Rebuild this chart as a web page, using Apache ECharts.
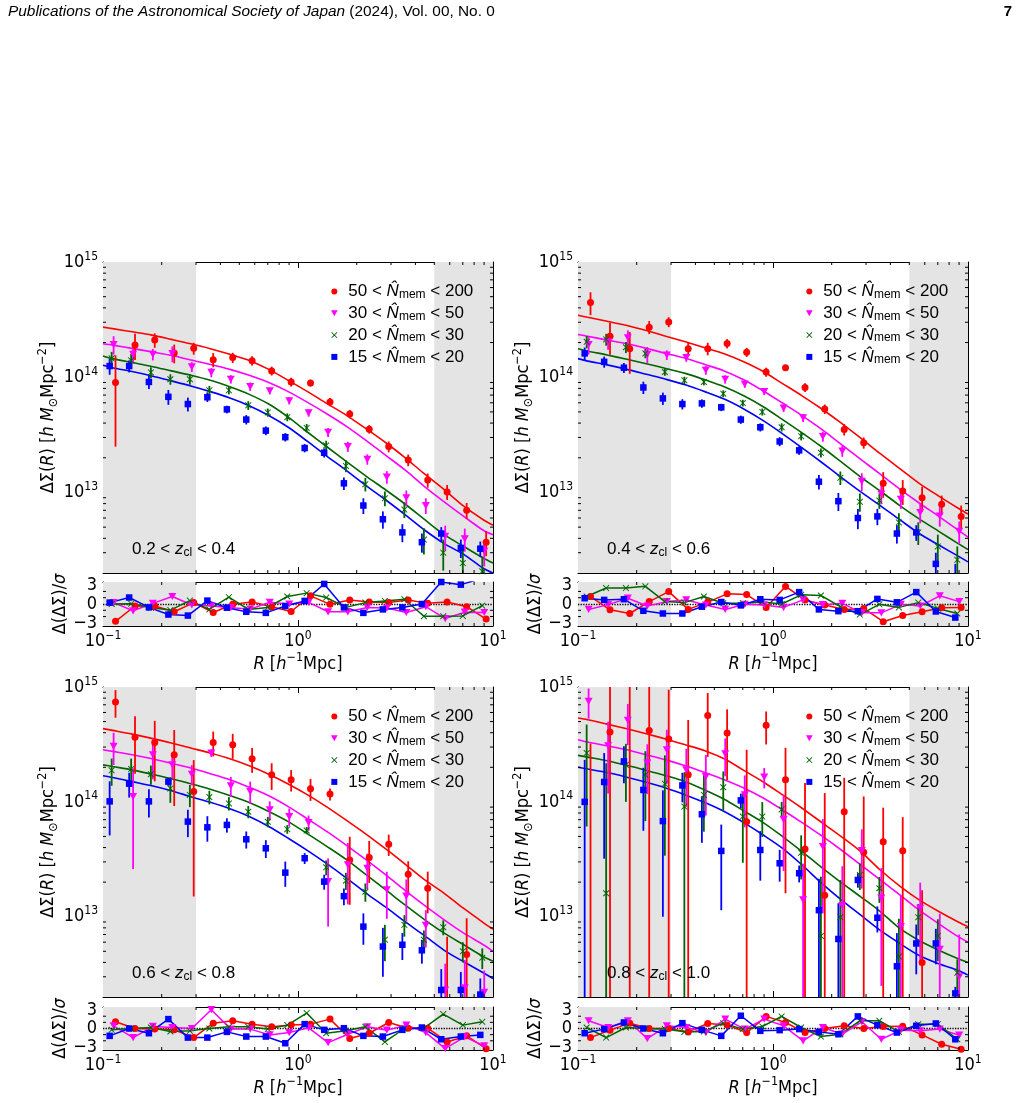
<!DOCTYPE html>
<html>
<head>
<meta charset="utf-8">
<script src="https://cdn.jsdelivr.net/npm/echarts@6/dist/echarts.min.js"></script>
<style>
  html, body { margin: 0; padding: 0; background: #fff; }
  #chart { width: 1021px; height: 1103px; }
</style>
</head>
<body>
<div id="chart"></div>
<script>
// radial bins (h^-1 Mpc), 20 log bins between 0.1 and 10
const R = [0.112, 0.141, 0.178, 0.224, 0.282, 0.355, 0.447, 0.562, 0.708, 0.891,
           1.12, 1.41, 1.78, 2.24, 2.82, 3.55, 4.47, 5.62, 7.08, 8.91]
const R_FIT = [0.1].concat(R, [10])

// richness bins, order: red, magenta, green, blue
const BINS = ['50 < N_mem < 200', '30 < N_mem < 50', '20 < N_mem < 30', '15 < N_mem < 20']
const BIN_LO = ['50', '30', '20', '15']
const BIN_HI = ['200', '50', '30', '20']
const ZBINS = [['0.2', '0.4'], ['0.4', '0.6'], ['0.6', '0.8'], ['0.8', '1.0']]

// Delta Sigma in units of 1e12 h Msun Mpc^-2, one row per richness bin
const UNIT = 1e12
const sig1 = [
  [90, 190, 210, 162, 178, 142, 148, 139, 113.5, 91, 89, 61, 48, 35.4, 25, 19.1, 12.8, 10.1, 7.0, 3.7],
  [192, 158, 158, 160, 123, 110, 96, 83, 76, 62.5, 49, 33.3, 25, 19.4, 13.6, 9.0, 7.7, 4.15, 3.96, 3.08],
  [146, 140, 110, 96, 96, 77, 77, 57, 49.5, 45, 36.3, 25.6, 17, 11.8, 8.9, 7.1, 3.9, 3.0, 2.44, 2.07],
  [125, 125, 91, 67.6, 58.5, 67, 52.6, 42.9, 34.4, 30.2, 24.3, 22.1, 12.0, 7.7, 5.85, 4.5, 3.7, 4.4, 3.3, 3.25]
]
const err1 = [
  [65, 49, 30, 30, 21, 20, 15, 13, 10, 8, 6, 5, 4, 3, 2.7, 2.2, 1.8, 1.5, 1.1, 0.9],
  [35, 25, 18, 25, 12, 10, 8, 7, 5, 4.5, 3.5, 3, 2.5, 2, 1.7, 1.4, 1.2, 1.0, 0.9, 0.8],
  [20, 20, 12, 10, 10, 7, 6, 5, 4, 3.5, 3, 2.5, 2, 1.6, 1.3, 1.1, 1.0, 0.9, 0.8, 0.7],
  [20, 15, 12, 10, 8, 6, 4, 4, 3, 2.5, 2, 2, 1.5, 1.2, 1.0, 0.8, 0.7, 0.6, 0.6, 0.5]
]
const fit1 = [
  [272, 264, 248, 232, 213, 195, 177, 158, 140, 117, 94, 75, 59, 46.5, 35.6, 27.0, 20.0, 14.4, 10.6, 7.6, 5.8, 5.2],
  [195, 190, 178, 166, 155, 141, 129, 117, 104, 90, 75, 60.5, 48, 37.3, 28.2, 21.0, 15.6, 11.2, 8.3, 6.2, 4.7, 4.3],
  [153, 145, 134, 124, 113.5, 104, 94, 82.5, 71, 58.5, 45, 33.3, 24.8, 18.4, 13.8, 10.5, 7.9, 5.8, 4.3, 3.4, 2.7, 2.44],
  [127, 121, 112, 102.6, 93, 84, 75, 66, 56.6, 46.5, 36.8, 27.7, 20.6, 15.4, 11.4, 8.6, 6.4, 4.7, 3.6, 2.9, 2.2, 2.0]
]
const res1 = [
  [-2.76, -0.32, -0.32, -1.24, 0.22, -1.35, -0.05, 0.32, -0.43, -1.19, 1.3, -0.05, 0.65, 0.32, 0.22, 0.65, 0.1, 0.32, -0.43, -2.4],
  [0.22, -1.08, 0.1, 1.19, -0.16, -0.32, -0.59, -0.81, 0.27, 0, 0.27, -1.24, -1.24, -0.54, -0.65, -1.35, -0.43, -2.32, -1.3, -1.35],
  [0, 0.05, -0.59, -0.97, 0.54, -0.86, 1.08, -0.86, -0.54, 1.19, 1.73, 1.03, -0.54, 0.22, 0.49, 0.76, -1.95, -1.95, -1.89, -0.27],
  [0.22, 1.03, -0.54, -1.68, -1.84, 0.54, -0.59, -1.24, -1.41, -0.32, 0.49, 3.19, -0.54, -1.41, -0.86, -0.54, 0, 3.5, 3.08, 4.0]
]

const sig2 = [
  [446, 227, 177, 272, 302, 177, 177, 196, 165, 111, 121, 81.5, 53, 35.2, 27, 12, 10.3, 9.0, 7.9, 6.2],
  [192, 203, 220, 158, 156, 148, 115, 96, 87, 75, 54, 44.4, 30.6, 22.9, 12.5, 9.7, 8.7, 6.7, 6.25, 4.6],
  [203, 213, 182, 161, 111, 94, 91, 72, 59.7, 50, 36.8, 30.8, 22.1, 13.4, 8.3, 8.5, 5.5, 4.5, 3.4, 2.6],
  [161, 136, 121, 81.5, 65.5, 58.5, 59.3, 54.8, 42.9, 36.8, 27.7, 23.2, 12.4, 8.4, 6.0, 6.2, 4.4, 4.5, 2.4, 1.9]
]
const err2 = [
  [100, 70, 70, 35, 30, 25, 22, 18, 15, 10, 7, 7, 5, 4, 3, 3, 2.5, 2.2, 1.5, 1.5],
  [35, 30, 35, 25, 15, 12, 10, 8, 6, 5, 4, 3.5, 3, 2.5, 2.2, 1.8, 1.5, 1.3, 1.2, 1.0],
  [25, 25, 20, 15, 8, 7, 6, 5, 4, 3.5, 3, 2.5, 2, 1.8, 1.5, 1.3, 1.1, 1.0, 0.9, 0.8],
  [20, 15, 12, 10, 8, 6, 5, 4, 3.5, 3, 2.5, 2, 1.8, 1.5, 1.2, 1.0, 0.8, 0.7, 0.6, 0.5]
]
const fit2 = [
  [345, 331, 306, 281, 254, 227, 203, 180, 160, 136, 112, 88, 69, 53, 40, 29.6, 21.7, 16.1, 12.0, 9.3, 7.3, 6.5],
  [235, 227, 210, 195, 178, 161, 146, 129, 113.5, 95, 76, 59.7, 46.5, 35.2, 26.1, 19.4, 14.4, 10.7, 8.1, 6.2, 4.7, 4.1],
  [177, 169, 156, 143, 131, 119, 108, 95, 82.6, 69, 55.5, 42.9, 32.9, 24.8, 18.4, 13.6, 10.3, 7.7, 5.9, 4.6, 3.6, 3.2],
  [145, 138, 128, 117, 106, 96, 86, 75, 64.6, 53, 42, 32.3, 24.4, 18.2, 13.5, 10.1, 7.7, 5.8, 4.4, 3.5, 2.8, 2.5]
]
const res2 = [
  [1.19, -0.92, -1.51, 0.38, 1.97, -0.86, 0.3, 1.62, 1.51, -0.54, 2.8, 0.65, -0.16, -0.86, -0.7, -2.81, -1.84, -1.24, -0.59, -0.54],
  [-0.86, -0.1, 0.92, -0.32, 0.38, 0.65, -0.16, -0.86, -0.05, -0.16, -0.54, 0.65, -0.1, 0.1, -1.41, -1.41, -0.05, -0.32, 1.3, 0.38],
  [1.19, 2.54, 2.54, 2.81, 0.38, 0.22, 1.19, 0.11, 0.11, 0.32, 0, 1.46, 1.35, -0.43, -1.68, -0.05, -0.54, 0.22, -0.7, -1.51],
  [0.92, 0.65, 0.76, -1.08, -1.51, -1.51, -0.43, 0.32, -0.22, 0.76, 0.65, 1.89, -0.86, -1.14, -1.14, 0.81, 0.27, 1.89, -1.19, -2.16]
]

const sig3 = [
  [740, 366, 329, 257, 123, 329, 314, 237, 172, 156, 130, 117, 31.2, 32.7, 42.8, 23.4, 17.7, 1.5, 4.7, 0.5],
  [304, 111, 257, 210, 174, 266, 138, 123, 85, 74.5, 66, 20.2, 28.3, 26.4, 17.1, 15.1, 8.4, 2.3, 2.4, 2.2],
  [188, 193, 174, 131, 115, 110, 97, 82, 67, 57.8, 56.3, 26.9, 20.6, 16.5, 6.3, 8.5, 6.3, 8.1, 5.0, 4.4],
  [101, 144, 101, 150, 67.3, 60, 63, 47.2, 39.4, 24.2, 32.3, 20.2, 15.1, 8.2, 5.5, 5.7, 5.1, 2.3, 2.3, 2.1]
]
const err3 = [
  [200, 190, 178, 165, 108, 80, 77, 58, 45, 33, 28, 14, 18.5, 13, 9, 7, 7, 5.2, 5.0, 1],
  [95, 85, 100, 50, 35, 20, 27, 27, 16, 13, 10, 12, 15.5, 9, 7.5, 6, 3, 1.6, 1.8, 1.2],
  [50, 45, 33, 33, 25, 15, 13, 10, 7, 5, 4, 4, 3.5, 3, 2.2, 1.8, 1.3, 1.2, 1.0, 0.9],
  [50, 35, 28, 12, 18, 15, 9, 8, 7, 6, 3.5, 3, 2.5, 2.5, 2.5, 1.5, 1.2, 1.2, 1.0, 0.8]
]
const fit3 = [
  [434, 419, 389, 357, 325, 294, 266, 237, 206, 174, 143, 115, 90, 68.7, 52.2, 38.9, 28.6, 20.9, 16.0, 11.8, 8.9, 7.8],
  [284, 275, 257, 237, 217, 197, 176, 156, 134, 113, 91, 71, 55, 41.6, 31.2, 23.1, 16.9, 12.5, 9.4, 7.2, 5.7, 5.0],
  [210, 203, 190, 174, 159, 144, 129, 113.5, 98.6, 82.4, 67.3, 52.6, 40.8, 31.2, 23.1, 17.1, 12.6, 9.4, 7.2, 5.7, 4.5, 4.1],
  [169, 163, 150, 138, 125, 111, 99, 87, 74.5, 61, 48.2, 37.6, 28.8, 21.6, 16.0, 12.1, 9.0, 6.8, 5.1, 4.05, 3.25, 2.9]
]
const res3 = [
  [1.09, 0, -0.1, -0.2, -1.48, 0.87, 1.26, 0.71, 0.27, 0.55, 0.71, 1.53, -1.64, -0.77, 0.98, 0.05, 0.05, -2.19, -1.2, -3.28],
  [0.44, -1.48, 0.33, 0.16, 0, 3.06, -0.1, -0.1, -1.04, -0.66, 0.1, -2.3, -0.93, 0.27, -0.27, 0.55, -0.66, -3.28, -1.37, -2.84],
  [-0.22, 0, 0.16, -0.49, -0.38, 0, 0.27, 0.27, -0.1, 0.55, 2.51, -0.77, -0.38, 0.27, -2.19, 0, 0.05, 2.35, 0.55, 1.09],
  [-1.2, 0, -0.77, 1.53, -1.48, -1.48, -0.55, -1.31, -1.31, -2.4, 0.71, -0.22, 0.05, -1.2, -1.31, -0.22, 0.16, -1.75, -1.31, -1.04]
]

const sig4 = [
  [1.5, 405, 1300, 419, 352, 172, 566, 397, 67, 464, 156, 38.9, 15.4, 82, 36.4, 45, 37.6, 4, 1.0, 0.5],
  [750, 308, 512, 217, 284, 190, 166, 262, 115, 164, 70, 14, 40.7, 12.5, 37.6, 14.5, 8.2, 11.8, 5.2, 3],
  [266, 16, 210, 172, 144, 91, 115, 134, 74.5, 74.5, 86, 36.1, 6.8, 9.9, 23.1, 17.7, 4.5, 9.9, 6.8, 3.25],
  [100, 149, 225, 127, 68, 139, 78, 37.4, 103, 38.1, 29.2, 23.9, 11.4, 6.4, 20.9, 9.8, 3.7, 5.85, 5.85, 2.15]
]
const err4 = [
  [320, 700, 1300, 700, 596, 343, 320, 242, 217, 148, 140, 107, 104, 80, 75, 44, 36, 13, 1.0, 0.5],
  [220, 190, 200, 100, 141, 100, 90, 95, 55, 33, 45, 15, 30, 15, 20, 12, 7, 8, 5.4, 4],
  [205, 201, 110, 104, 110, 90, 60, 50, 45, 25, 14, 15, 15.5, 11, 6, 4.5, 5.1, 3, 2.7, 1],
  [132, 117, 80, 71, 58, 40, 34, 26, 15, 17.5, 9, 4, 10, 6.7, 3, 2.5, 3.5, 2.7, 2, 0.3]
]
const fit4 = [
  [537, 519, 475, 433, 392, 352, 314, 279, 237, 188, 149, 115, 88, 66, 49.9, 36.9, 25.5, 18.5, 14.0, 11.1, 9.0, 8.2],
  [348, 332, 308, 284, 257, 232, 206, 180, 156, 132, 108, 85, 66, 50.5, 38.1, 28.2, 20.9, 15.5, 11.4, 8.7, 6.7, 6.0],
  [254, 245, 228, 208, 188, 169, 150, 127, 105.5, 83.5, 66, 49.9, 36.9, 26.7, 19.8, 14.9, 11.1, 7.9, 6.2, 5.1, 4.3, 4.0],
  [200, 193, 180, 164, 148, 132, 115, 98.6, 82.4, 66, 51.5, 39.4, 28.2, 19.5, 14.0, 10.3, 7.6, 5.85, 4.6, 3.9, 3.4, 3.1]
]
const res4 = [
  [-1.48, -0.27, 0.87, 0, 0, -0.55, 0.82, 0.55, -0.66, 1.97, 0.98, -0.66, 0, 0.44, 0, 0.33, 0.38, -1.04, -2.57, -3.39],
  [1.26, 0.16, 1.26, -1.64, 0.44, 0.16, -0.66, 1.53, -0.1, 1.53, 0.44, -2.02, 0.16, -0.93, 1.09, -1.75, -0.27, -0.38, -0.1, -1.09],
  [0.16, -1.48, 0.16, 0, -0.1, -0.55, -0.49, 0.87, -0.1, 0.33, 1.97, 0.16, -1.31, -0.93, 1.26, 1.26, -0.55, 0.71, 0.71, -1.75],
  [-0.77, -0.1, 0.98, 0, -0.77, 0.87, -0.22, -1.2, 2.08, -0.38, -0.27, -0.1, -0.55, -0.93, 1.97, 0.55, -0.66, 0.44, 0.82, -1.75]
]

// tick positions
const MINOR_X = [0.2, 0.3, 0.4, 0.5, 0.6, 0.7, 0.8, 0.9, 2, 3, 4, 5, 6, 7, 8, 9]
const MINOR_Y = [3e12, 4e12, 5e12, 6e12, 7e12, 8e12, 9e12, 2e13, 3e13, 4e13, 5e13, 6e13, 7e13, 8e13, 9e13,
                 2e14, 3e14, 4e14, 5e14, 6e14, 7e14, 8e14, 9e14]
const RES_TICKS = [-3, 0, 3]
const RES_MINOR = [-2, -1, 1, 2]

// style
const FONT = 'Liberation Sans'
const NARROW = "'Liberation Sans Narrow', 'DejaVu Sans Condensed', 'Liberation Sans'"
const COLORS = ['#ff0000', '#ff00ff', '#006400', '#0000ff']
const TRI = 'path://M0,0L10,0L5,9Z'
const CROSS = 'path://M1,0L5,4L9,0L10,1L6,5L10,9L9,10L5,6L1,10L0,9L4,5L0,1Z'
const SQUARE = 'path://M0,0L10,0L10,10L0,10Z'
const SYMBOLS = ['circle', TRI, CROSS, SQUARE]
const SIZES = [7, 8, 6.5, 6.5]
const SHIFT = [1.035, 1.012, 0.989, 0.966]
const SHADE = '#e4e4e4'

const panels = [
  { sig: sig1, err: err1, fit: fit1, res: res1, left: 103, top: 262, h: 311, rtop: 582, rh: 44 },
  { sig: sig2, err: err2, fit: fit2, res: res2, left: 578, top: 262, h: 311, rtop: 582, rh: 44 },
  { sig: sig3, err: err3, fit: fit3, res: res3, left: 103, top: 687, h: 310, rtop: 1007, rh: 43 },
  { sig: sig4, err: err4, fit: fit4, res: res4, left: 578, top: 687, h: 310, rtop: 1007, rh: 43 }
]
const W = 390

const chart = echarts.init(document.getElementById('chart'), null, { renderer: 'canvas' })

const tickRich = {
  b: { fontFamily: NARROW, fontSize: 18, color: '#000' },
  s: { fontFamily: NARROW, fontSize: 12, color: '#000', padding: [0, 0, 11, 0] }
}
const nameRich = {
  t: { fontFamily: NARROW, fontSize: 18, color: '#000' },
  i: { fontFamily: NARROW, fontSize: 18, fontStyle: 'italic', color: '#000' },
  p: { fontFamily: NARROW, fontSize: 12.5, color: '#000', padding: [0, 0, 12, 0] },
  s: { fontFamily: NARROW, fontSize: 12.5, fontStyle: 'italic', color: '#000', padding: [9, 0, 0, 0] }
}

function powLabel (v) {
  const l = Math.log10(v)
  const e = Math.round(l)
  if (Math.abs(l - e) > 1e-6) return ''
  return '{b|10}{s|' + (e < 0 ? '\u2212' + (-e) : e) + '}'
}

const grids = []
const xAxes = []
const yAxes = []
const series = []
const legends = []
const graphics = []

const axLine = { show: true, onZero: false, lineStyle: { color: '#000', width: 1 } }
const axTick = { show: true, inside: true, length: 6, lineStyle: { color: '#000', width: 1 } }

function addGrid (left, top, height, isRes) {
  const g = grids.length
  grids.push({ left: left, top: top, width: W, height: height })
  const xBase = { gridIndex: g, type: 'log', logBase: 10, min: 0.1, max: 10, axisLine: axLine, axisTick: axTick, splitLine: { show: false } }
  xAxes.push(Object.assign({}, xBase, {
    position: 'bottom',
    axisLabel: isRes ? { show: true, margin: 4, formatter: powLabel, rich: tickRich } : { show: false },
    name: isRes ? '{i|R}{t| [}{i|h}{p|\u22121}{t|Mpc]}' : '',
    nameLocation: 'middle',
    nameGap: 22,
    nameTextStyle: { rich: nameRich }
  }))
  xAxes.push(Object.assign({}, xBase, { position: 'top', axisLabel: { show: false } }))
  let yBase
  if (isRes) {
    yBase = { gridIndex: g, type: 'value', min: -3.5, max: 3.5, axisLine: axLine, splitLine: { show: false },
      axisTick: Object.assign({}, axTick, { customValues: RES_TICKS }) }
    yAxes.push(Object.assign({}, yBase, {
      position: 'left',
      axisLabel: { show: true, customValues: RES_TICKS, margin: 6, fontFamily: NARROW, fontSize: 18, color: '#000',
        formatter: v => (v < 0 ? '\u2212' + (-v) : String(v)) },
      name: '{t|\u0394(\u0394\u03a3)/}{i|\u03c3}',
      nameLocation: 'middle', nameRotate: 90, nameGap: 33,
      nameTextStyle: { rich: nameRich }
    }))
  } else {
    yBase = { gridIndex: g, type: 'log', logBase: 10, min: 2e12, max: 1e15, axisLine: axLine, axisTick: axTick, splitLine: { show: false } }
    yAxes.push(Object.assign({}, yBase, {
      position: 'left',
      axisLabel: { show: true, margin: 5, formatter: powLabel, rich: tickRich },
      name: '{t|\u0394\u03a3(}{i|R}{t|) [}{i|h M}{s|\u2299}{t|Mpc}{p|\u22122}{t|]}',
      nameLocation: 'middle', nameRotate: 90, nameGap: 33,
      nameTextStyle: { rich: nameRich }
    }))
  }
  yAxes.push(Object.assign({}, yBase, { position: 'right', axisLabel: { show: false } }))
  return g
}

// minor ticks drawn through the axes' own scales
function minorSeries (g, dim, values, ref) {
  return {
    type: 'custom', xAxisIndex: 2 * g, yAxisIndex: 2 * g, silent: true, z: 6,
    data: values.map(v => dim === 'x' ? [v, ref] : [ref, v]),
    renderItem: function (params, api) {
      const cs = params.coordSys
      const p = api.coord([api.value(0), api.value(1)])
      const st = { stroke: '#000', lineWidth: 1 }
      if (dim === 'x') {
        return { type: 'group', children: [
          { type: 'line', shape: { x1: p[0], y1: cs.y + cs.height, x2: p[0], y2: cs.y + cs.height - 3 }, style: st },
          { type: 'line', shape: { x1: p[0], y1: cs.y, x2: p[0], y2: cs.y + 3 }, style: st }
        ] }
      }
      return { type: 'group', children: [
        { type: 'line', shape: { x1: cs.x, y1: p[1], x2: cs.x + 3, y2: p[1] }, style: st },
        { type: 'line', shape: { x1: cs.x + cs.width, y1: p[1], x2: cs.x + cs.width - 3, y2: p[1] }, style: st }
      ] }
    }
  }
}

function errSeries (g, k, data) {
  return {
    type: 'custom', name: 'err', xAxisIndex: 2 * g, yAxisIndex: 2 * g, silent: true, z: 3,
    data: data,
    encode: { x: 0, y: 1 },
    renderItem: function (params, api) {
      const cs = params.coordSys
      const x = api.value(0)
      const v = api.value(1)
      const e = api.value(2)
      const top = api.coord([x, v + e])
      const bot = v - e > 0 ? api.coord([x, v - e])[1] : cs.y + cs.height
      const y1 = Math.max(top[1], cs.y)
      const y2 = Math.min(bot, cs.y + cs.height)
      if (!(y2 > y1)) return { type: 'group', children: [] }
      return { type: 'line', shape: { x1: top[0], y1: y1, x2: top[0], y2: y2 }, style: { stroke: COLORS[k], lineWidth: 1.8 } }
    }
  }
}

const shadeArea = {
  silent: true,
  itemStyle: { color: SHADE },
  data: [[{ xAxis: 0.1 }, { xAxis: 0.3 }], [{ xAxis: 5 }, { xAxis: 10 }]]
}

panels.forEach((pn, p) => {
  const gm = addGrid(pn.left, pn.top, pn.h, false)
  const gr = addGrid(pn.left, pn.rtop, pn.rh, true)

  for (let k = 0; k < 4; k++) {
    const xs = R.map(r => r * SHIFT[k])
    // model curve
    series.push({
      type: 'line', name: 'fit' + k, xAxisIndex: 2 * gm, yAxisIndex: 2 * gm, z: 2,
      data: R_FIT.map((r, i) => [r, pn.fit[k][i] * UNIT]),
      showSymbol: false, smooth: 0.3, silent: true,
      lineStyle: { color: COLORS[k], width: 1.6 },
      markArea: k === 0 ? shadeArea : undefined
    })
    // error bars
    series.push(errSeries(gm, k, xs.map((x, i) => [x, pn.sig[k][i] * UNIT, pn.err[k][i] * UNIT])))
    // points
    series.push({
      type: 'scatter', name: BINS[k], xAxisIndex: 2 * gm, yAxisIndex: 2 * gm, z: 4,
      data: xs.map((x, i) => [x, pn.sig[k][i] * UNIT]),
      symbol: SYMBOLS[k], symbolSize: SIZES[k], symbolKeepAspect: true, silent: true,
      itemStyle: { color: COLORS[k], opacity: 1 }
    })
    // residuals
    series.push({
      type: 'line', name: 'res' + k, xAxisIndex: 2 * gr, yAxisIndex: 2 * gr, z: 3,
      data: xs.map((x, i) => [x, pn.res[k][i]]),
      symbol: SYMBOLS[k], symbolSize: SIZES[k], symbolKeepAspect: true, showSymbol: true, silent: true,
      itemStyle: { color: COLORS[k] },
      lineStyle: { color: COLORS[k], width: 1.5 },
      markArea: k === 0 ? shadeArea : undefined,
      markLine: k === 0 ? {
        silent: true, symbol: ['none', 'none'], z: 2, label: { show: false },
        lineStyle: { color: '#000', type: 'dotted', width: 1.3 },
        data: [{ yAxis: 0 }]
      } : undefined
    })
  }

  series.push(minorSeries(gm, 'x', MINOR_X, 1e13))
  series.push(minorSeries(gm, 'y', MINOR_Y, 1))
  series.push(minorSeries(gr, 'x', MINOR_X, 0))
  series.push(minorSeries(gr, 'y', RES_MINOR, 1))

  legends.push({
    orient: 'vertical', left: pn.left + 223, top: pn.top + 16, z: 20,
    itemWidth: 18, itemHeight: 6, itemGap: 4.3, selectedMode: false,
    data: BINS.map((b, k) => ({ name: b, icon: SYMBOLS[k], itemStyle: { color: COLORS[k] } })),
    formatter: name => {
      const k = BINS.indexOf(name)
      return '{t|' + BIN_LO[k] + ' < }{n|N\u0302}{s|mem}{t| < ' + BIN_HI[k] + '}'
    },
    textStyle: {
      rich: {
        t: { fontFamily: FONT, fontSize: 17, color: '#000', lineHeight: 19 },
        n: { fontFamily: FONT, fontSize: 17, fontStyle: 'italic', color: '#000', lineHeight: 19 },
        s: { fontFamily: FONT, fontSize: 12, color: '#000', padding: [6, 0, 0, 0] }
      }
    }
  })

  graphics.push({
    type: 'text', left: pn.left + 29, top: pn.top + pn.h - 32, z: 50,
    style: {
      text: '{t|' + ZBINS[p][0] + ' < }{i|z}{s|cl}{t| < ' + ZBINS[p][1] + '}',
      rich: {
        t: { fontFamily: FONT, fontSize: 17, fill: '#000' },
        i: { fontFamily: FONT, fontSize: 17, fontStyle: 'italic', fill: '#000' },
        s: { fontFamily: FONT, fontSize: 12, fill: '#000', padding: [6, 0, 0, 0] }
      }
    }
  })
})

graphics.push({
  type: 'text', left: 8, top: 4, z: 50,
  style: {
    text: '{i|Publications of the Astronomical Society of Japan}{n| (2024), Vol. 00, No. 0}',
    rich: {
      i: { fontFamily: FONT, fontSize: 15.4, fontStyle: 'italic', fill: '#000' },
      n: { fontFamily: FONT, fontSize: 15.4, fill: '#000' }
    }
  }
})
graphics.push({
  type: 'text', right: 9, top: 4, z: 50,
  style: { text: '7', fontFamily: FONT, fontSize: 15, fontWeight: 'bold', fill: '#000' }
})

chart.setOption({
  animation: false,
  backgroundColor: '#fff',
  grid: grids,
  xAxis: xAxes,
  yAxis: yAxes,
  legend: legends,
  graphic: graphics,
  series: series
})
</script>
</body>
</html>
